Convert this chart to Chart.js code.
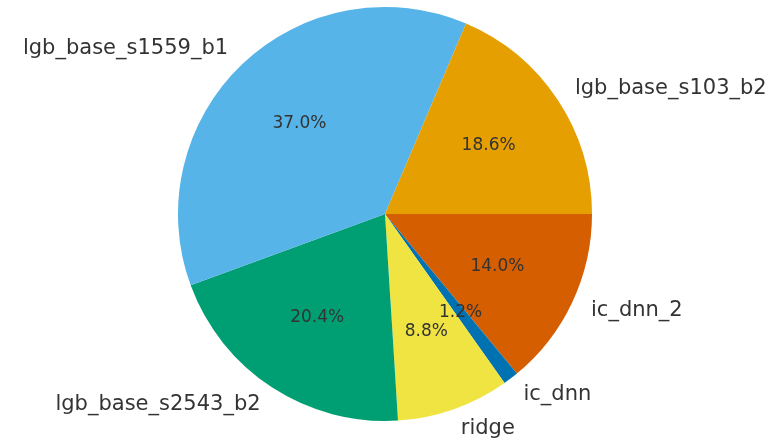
<!DOCTYPE html>
<html lang="en">
<head>
    <meta charset="UTF-8">
    <title>Model weights</title>
    <script src="https://cdn.jsdelivr.net/npm/chart.js"></script>
    <style>
        body {
            margin: 0;
            background: #ffffff;
        }
        #wrap {
            width: 779px;
            height: 441px;
        }
    </style>
</head>
<body>
    <div id="wrap">
        <canvas id="pieChart" width="779" height="441"></canvas>
    </div>

    <script>
        // slices in counter-clockwise order, starting at 3 o'clock (as in the original plot)
        const models = ["lgb_base_s103_b2", "lgb_base_s1559_b1", "lgb_base_s2543_b2", "ridge", "ic_dnn", "ic_dnn_2"];
        const shares = [18.6, 37.0, 20.4, 8.8, 1.2, 14.0];
        const sliceColors = ["#E69F00", "#56B4E9", "#009E73", "#F0E442", "#0072B2", "#D55E00"];

        // Chart.js goes clockwise, so feed it reversed
        const labels = models.slice().reverse();
        const values = shares.slice().reverse();
        const colors = sliceColors.slice().reverse();

        const total = values.reduce((a, b) => a + b, 0);

        // labels outside (1.1 r) and percentages inside (0.6 r)
        const pieText = {
            id: "pieText",
            afterDatasetsDraw(chart) {
                const ctx = chart.ctx;
                const arcs = chart.getDatasetMeta(0).data;
                ctx.save();
                ctx.fillStyle = "#333333";
                ctx.textBaseline = "middle";
                arcs.forEach((arc, i) => {
                    const mid = (arc.startAngle + arc.endAngle) / 2;
                    const r = arc.outerRadius;
                    const cx = Math.cos(mid), cy = Math.sin(mid);

                    ctx.font = "21px 'DejaVu Sans'";
                    ctx.textAlign = cx > 0 ? "left" : "right";
                    ctx.fillText(labels[i], arc.x + 1.1 * r * cx, arc.y + 1.1 * r * cy);

                    ctx.font = "17px 'DejaVu Sans'";
                    ctx.textAlign = "center";
                    const pct = (values[i] / total * 100).toFixed(1) + "%";
                    ctx.fillText(pct, arc.x + 0.6 * r * cx, arc.y + 0.6 * r * cy);
                });
                ctx.restore();
            }
        };

        const ctx = document.getElementById("pieChart").getContext("2d");
        new Chart(ctx, {
            type: "pie",
            data: {
                labels: labels,
                datasets: [{
                    data: values,
                    backgroundColor: colors,
                    borderWidth: 0
                }]
            },
            options: {
                responsive: false,
                animation: false,
                rotation: 90,
                layout: {
                    padding: { top: 7, bottom: 20, left: 178, right: 187 }
                },
                plugins: {
                    legend: { display: false },
                    tooltip: { enabled: false }
                }
            },
            plugins: [pieText]
        });
    </script>
</body>
</html>
